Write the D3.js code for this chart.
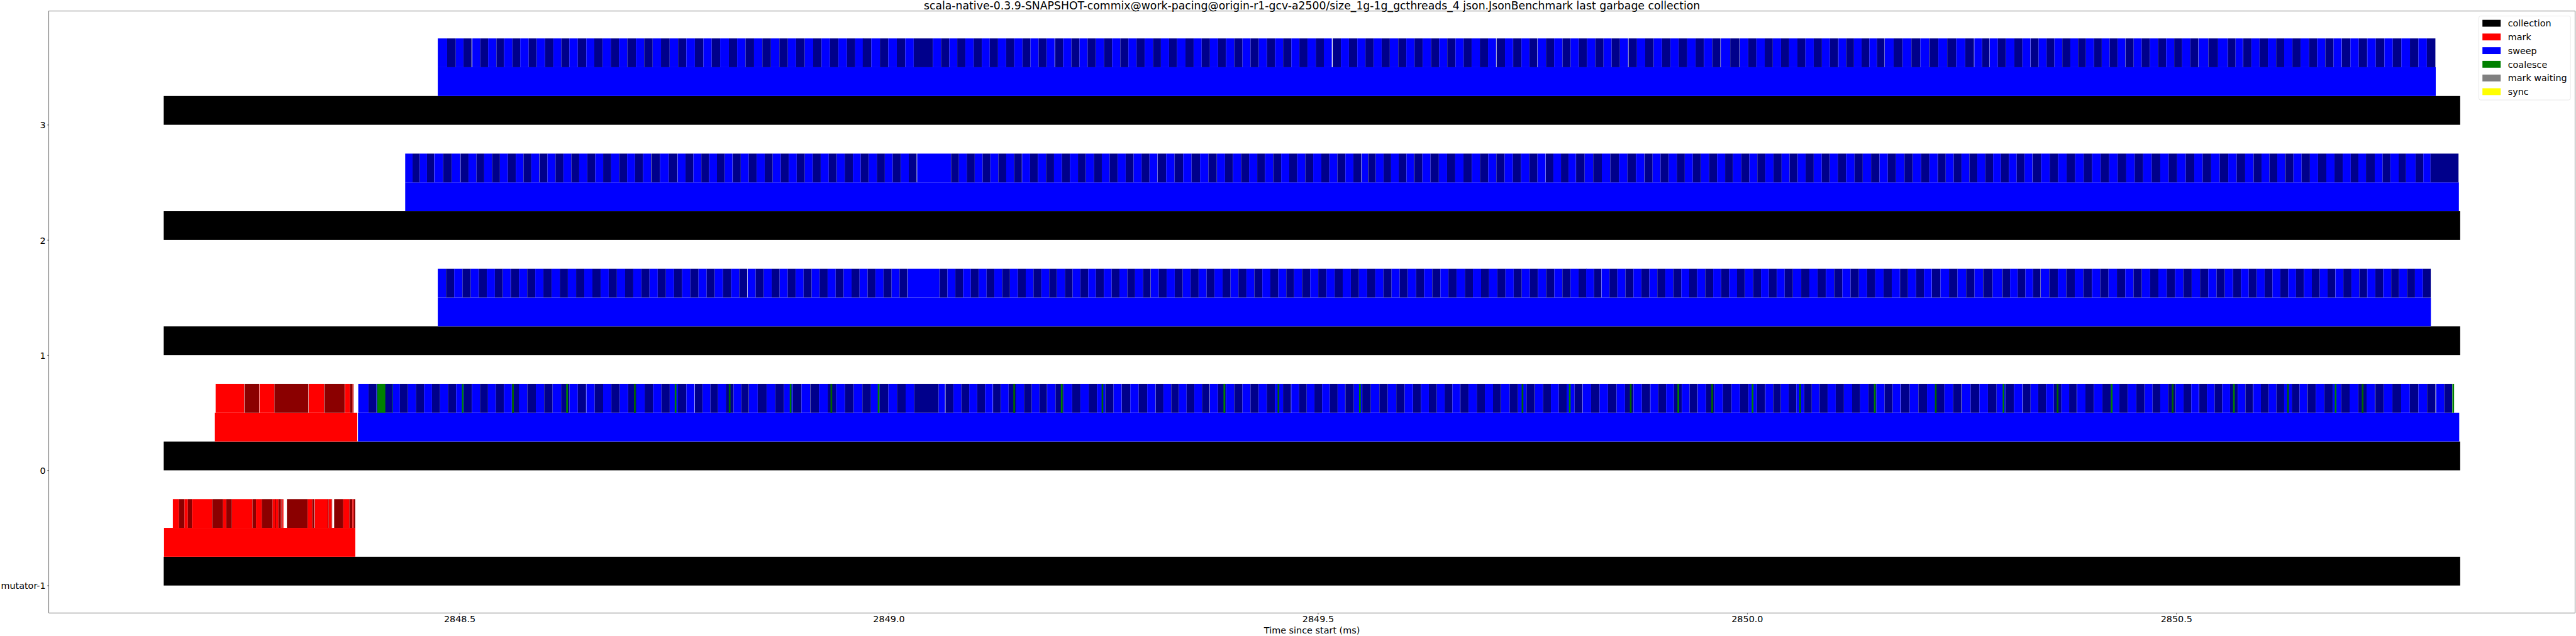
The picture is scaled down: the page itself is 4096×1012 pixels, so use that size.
<!DOCTYPE html>
<html><head><meta charset="utf-8">
<script src="https://cdn.jsdelivr.net/npm/d3@7"></script>
<style>html,body{margin:0;padding:0;background:#fff;overflow:hidden}</style>
</head><body>
<svg id="chart" width="4096" height="1012"></svg>
<script>
// ---------------- data ----------------
const chartTitle = "scala-native-0.3.9-SNAPSHOT-commix@work-pacing@origin-r1-gcv-a2500/size_1g-1g_gcthreads_4 json.JsonBenchmark last garbage collection";
const xLabel = "Time since start (ms)";
const rowLabels = ["mutator-1", "0", "1", "2", "3"];
const rowValues = [-1, 0, 1, 2, 3];
const xTicks = [2848.5, 2849.0, 2849.5, 2850.0, 2850.5];

// [row, start ms, end ms]
const collectionBars = [[-1, 2848.15528, 2850.83068], [0, 2848.15528, 2850.83068], [1, 2848.15528, 2850.83068], [2, 2848.15528, 2850.83068], [3, 2848.15528, 2850.83068]];
const markPhases = [[-1, 2848.15566, 2848.37851], [0, 2848.21487, 2848.38079]];
const sweepPhases = [[0, 2848.38155, 2850.82954], [1, 2848.47456, 2850.79651], [2, 2848.43660, 2850.82916], [3, 2848.47456, 2850.80220]];

// batches: [row, segment start ms, durations in microseconds (negative = idle gap)]
const markBatches = [
  [-1, 2848.16594, [7.18,6.38,3.87,4.86,23.61,12.60,3.68,6.57,24.03,4.06,6.76,12.60,3.30,0.76,2.73,2.51,0.95,0.80,-0.38,1.18,-4.06,24.22,5.39,2.35,-0.57,14.92,1.14,3.11,0.57,0.46,-2.28,10.63,7.18,3.49,1.56,1.75]],
  [0, 2848.21572, [33.33,-0.38,17.05,-0.38,17.43,39.52,-0.38,17.84,-0.38,23.61,-0.38,5.81,3.11,0.80,0.38]]
];

const sweepBatches = [
  // thread 3
  [3, 2848.47456, [10.9,10.1,8.9,9.5]],
  [3, 2848.51480, [9.3,9.1,9.7,8.9,9.7,9.1,9.9,9.3,9.7,9.7,9.3,9.3,9.9,9.9,9.3,9.7,9.5,9.5,9.8,10.0,9.6,9.9,9.7,10.1,9.8,9.6,10.0,9.9,9.7,9.8,10.2,9.6,9.8,9.9,9.7,10.0,9.8,9.9,9.6,10.1,9.8,9.7,9.9,9.8,10.0,9.6,9.5]],
  [3, 2848.96963, [9.9,10.1,9.7,10.0,9.8,9.9,22.4,9.4,9.6,9.3,9.5,9.7,9.4,9.3,9.6,9.5,9.4,9.6,9.3,9.5,9.4,9.2]],
  [3, 2849.19362, [9.5,9.6,9.4,9.5,9.7,9.3,9.5,9.6,9.4,9.5,9.5,9.6,9.3,9.5,9.4,9.7,9.5,9.4,9.6,9.5,9.3,9.6,9.5,9.4,9.6,9.5,9.5,9.3,9.6,9.4,9.5,9.6,9.4,9.3]],
  [3, 2849.51708, [9.6,9.4,9.7,9.5,9.6,9.3,9.5,9.8,9.4,9.6,9.5,9.7,9.4,9.5,9.6,9.5,9.3,9.6,9.5,9.4]],
  [3, 2849.70805, [9.8,9.4]],
  [3, 2849.72741, [9.6,9.3,9.2]],
  [3, 2849.75588, [9.7,9.5,9.8,9.4,9.6,9.7,9.5,9.6,9.4,9.7,9.5]],
  [3, 2849.86181, [9.8,9.6,9.9,9.7,9.8,9.6,10.0,9.7,9.8,9.6,9.5]],
  [3, 2849.96925, [11.0,10.9]],
  [3, 2849.99165, [9.6,9.5,9.7,9.4,9.6,9.5,9.6,9.3,9.7,9.5,9.4,9.6]],
  [3, 2850.10630, [9.0,9.1,8.9,9.0,8.8,8.9]],
  [3, 2850.16021, [10.4,10.5,10.2,10.4,10.3]],
  [3, 2850.21222, [10.5,10.3,10.6,10.4,10.2]],
  [3, 2850.26462, [9.0,8.6]],
  [3, 2850.28246, [9.6,9.5,9.7,9.4,9.4]],
  [3, 2850.33030, [9.2,9.3,9.1,9.2,9.4,9.0,9.2,9.3,9.1,9.2,9.3,9.0]],
  [3, 2850.44078, [9.5,9.3,9.6,9.4,9.5,9.4,9.3,9.5,9.3]],
  [3, 2850.52582, [11.5,11.3,11.2]],
  [3, 2850.56000, [9.0,8.6]],
  [3, 2850.57783, [9.6,9.5,9.7,9.6,9.4,9.6,9.5,9.7,9.6,9.5,9.6,9.5]],
  [3, 2850.69286, [9.9,9.8,9.7]],
  [3, 2850.72248, [9.9,10.0,9.8,9.9,10.1,9.8,9.9,9.9]],
  // thread 2
  [2, 2848.43660, [8.6,8.3,8.5,8.2]],
  [2, 2848.47039, [10.3,10.1,10.0]],
  [2, 2848.50114, [9.2,9.3,9.0,9.2,9.1,9.3,9.2,9.0,9.1,9.2]],
  [2, 2848.59301, [9.3,9.4,9.2,9.3,9.1,9.4,9.3,9.2,9.4,9.3,9.2,9.3,9.4,9.1]],
  [2, 2848.72323, [10.3,10.2,10.0]],
  [2, 2848.75399, [9.2,9.1,9.3,9.0,9.2,9.1,9.0]],
  [2, 2848.81815, [9.4,9.3,9.2,9.4,9.3,9.5,9.2,9.3,9.4,9.3,9.2,9.4,9.3,9.3,9.5,9.2,9.3,9.4,9.3,9.2,9.4,9.3,9.2]],
  [2, 2849.03303, [39.3]],
  [2, 2849.07251, [9.2,9.1,9.3,9.2,9.0,9.3,9.2,9.1,9.1]],
  [2, 2849.15528, [9.3,9.2,9.4,9.3,9.2,9.3,9.4,9.2,9.3,9.3,9.1,9.4,9.3,9.2,9.3,9.2,9.3]],
  [2, 2849.31321, [9.9,9.8,10.0,9.8,9.9,9.8,9.7]],
  [2, 2849.38231, [9.4,9.3,9.4,9.3,9.5,9.2,9.4,9.3,9.4,9.3,9.4,9.2,9.5,9.3,9.4,9.3,9.3,9.2]],
  [2, 2849.55087, [7.4]],
  [2, 2849.55847, [8.9,9.0,8.8,8.9,9.0,8.7]],
  [2, 2849.61200, [9.6,9.5,9.7,9.6,9.5,9.6,9.7,9.5,9.6,9.5,9.6,9.7,9.5,9.6,9.5,9.4]],
  [2, 2849.76538, [8.9,8.8,8.8,8.6]],
  [2, 2849.80068, [10.0,9.9,10.1,9.9,10.0,9.9,10.0,9.7]],
  [2, 2849.88041, [9.4,9.3,9.5,9.4,9.3,9.4,9.5,9.3,9.4,9.4,9.3,9.5,9.4,9.3,9.4,9.4,9.5,9.3,9.4,9.3,9.4,9.4,9.3,9.2]],
  [2, 2850.10554, [9.7,9.8,9.6,9.7,9.8,9.7,9.6,9.8,9.7,9.7,9.6,9.6]],
  [2, 2850.22210, [9.2,9.3,9.1,9.2,9.2,9.3,9.1,9.2,9.2,9.1,9.2,9.1]],
  [2, 2850.33257, [9.9,10.0,9.8,9.9,10.0,9.9,9.8,10.0,9.9,9.9,10.0,9.8,9.9,9.9,10.0,9.8,9.9,10.0,9.9,9.8,9.9,10.0,9.9,9.8,9.9,9.7]],
  [2, 2850.58998, [9.3,9.2,9.1,9.0]],
  [2, 2850.62681, [9.6,9.5,9.7,9.5,9.6,9.5,9.6,9.4,8.85,8.85,10.21,9.19,9.0,9.68,8.66,11.05,9.0,8.5]],
  [2, 2850.79613, [32.6]],
  // thread 1
  [1, 2848.47456, [9.6,9.5,9.7,9.6,9.3]],
  [1, 2848.52240, [9.3,9.4,9.2,9.1]],
  [1, 2848.55961, [9.5,9.6,9.4,9.5,9.6,9.5,9.4,9.6,9.5,9.5,9.6,9.4,9.5,9.6,9.5,9.4,9.5,9.6,9.5,9.5,9.4,9.6,9.5,9.5,9.4,9.6,9.5,9.5,9.3]],
  [1, 2848.83561, [9.3,9.4,9.2,9.3,9.4,9.3,9.2,9.4,9.3,9.3,9.4,9.2,9.3,9.3,9.4,9.2,9.3,9.4,9.3,9.1]],
  [1, 2849.02202, [37.0]],
  [1, 2849.05923, [9.1,9.2,9.0,9.1,9.2,9.1,9.0,9.2,9.0]],
  [1, 2849.14123, [9.2,9.1,9.0,9.2,9.1,9.1,9.2,9.0,9.0]],
  [1, 2849.22323, [9.1,9.0,9.2,9.1,9.1,9.2,9.0,9.1,9.0]],
  [1, 2849.30524, [9.3,9.2,9.4,9.3,9.2,9.3,9.3,9.2,9.4,9.3,9.2,9.3,9.2,9.3,9.4,9.2,9.3,9.2,9.1]],
  [1, 2849.48140, [9.5,9.4,9.6,9.5,9.4,9.5,9.4,9.6,9.5,9.4,9.5,9.5,9.4,9.6,9.4,9.5,9.5,9.4,9.5,9.6,9.4,9.5,9.4,9.5,9.5,9.6,9.4,9.5,9.4,9.5,9.5,9.4,9.5,9.4,9.3]],
  [1, 2849.81245, [9.0,8.6]],
  [1, 2849.83030, [9.3,9.2,9.4,9.3,9.2,9.3,9.3,9.4,9.2,9.3,9.3,9.2,9.4,9.3,9.2,9.3,9.3,9.2,9.4,9.3,9.2,9.3,9.1]],
  [1, 2850.04366, [9.6,9.7,9.5,9.6,9.7,9.6,9.5,9.6,9.7,9.6,9.5,9.6,9.6,9.4]],
  [1, 2850.17806, [9.3,9.4,9.2,9.1]],
  [1, 2850.21526, [9.9,10.0,9.9,10.0,9.8,9.8]],
  [1, 2850.27487, [11.1,11.0]],
  [1, 2850.29727, [9.0,8.9,9.0,8.8,8.8]],
  [1, 2850.34207, [9.9,10.0,9.8,9.9,10.0,9.8]],
  [1, 2850.40167, [9.7,9.6,9.8,9.7,9.6,9.7,9.7,9.6,9.8,9.7,9.6,9.7,9.7,9.6,9.7,9.6,9.5]],
  [1, 2850.56606, [9.2,9.1,9.3,9.2,9.1,9.2,9.2,9.1,9.2,9.2,9.1,9.2,9.0]],
  [1, 2850.68527, [9.3,9.4,9.2,9.1]],
  [1, 2850.72248, [9.3,9.2,9.3,9.2,9.3,9.2,9.3,9.1]],
  // thread 0
  [0, 2848.38193, [11.9,9.3,9.5,8.4,9.4,9.4,9.2,9.5,9.3,9.4,9.2,9.5,9.3,9.1,9.4,9.3,9.2,9.4,9.2,9.0]],
  [0, 2848.56910, [9.8,9.9,9.7,9.8,9.9,9.8,9.7,9.6]],
  [0, 2848.64768, [9.7,9.8,9.6,9.7,9.8,9.7,9.6,9.8,9.7,9.7,9.6,9.8,9.5]],
  [0, 2848.77411, [9.0,9.1,8.9,9.0,9.1,8.9,8.8]],
  [0, 2848.83713, [10.2,10.3,10.1,10.2,10.2,10.1,10.0]],
  [0, 2848.90850, [10.1,10.2,10.0,10.1,10.2,10.1,10.0,10.2,10.1,10.0,10.1,10.0,28.5,7.4]],
  [0, 2849.06606, [9.3,9.2,9.1,9.3,9.2,9.0]],
  [0, 2849.12149, [9.0,9.1,8.9,9.0,9.1,8.9,8.8]],
  [0, 2849.18451, [9.7,9.6,9.8,9.6,9.7,9.6,9.7,9.6,9.5]],
  [0, 2849.27145, [9.9,9.8,9.9,9.7]],
  [0, 2849.31093, [9.0,9.1,8.9,9.0,9.0,8.9,8.8]],
  [0, 2849.37396, [9.5,9.4,9.6,9.5,9.4,9.5,9.5,9.4,9.5,9.3]],
  [0, 2849.46887, [8.9,9.1,9.0,8.9,9.0,9.1,8.8]],
  [0, 2849.53189, [9.9,9.8,10.0,9.9,9.8,9.9,9.8,9.7]],
  [0, 2849.61086, [9.2,9.1,9.3,9.1,9.0,9.1]],
  [0, 2849.66591, [9.5,9.6,9.4,9.5,9.3]],
  [0, 2849.71336, [9.9,9.8,9.9,9.7]],
  [0, 2849.75285, [9.2,9.3,9.2,9.1,9.3,9.0]],
  [0, 2849.80828, [9.9,9.8,9.9,10.0,9.8,9.9,9.8,9.6]],
  [0, 2849.88724, [9.1,9.2,9.1,9.3,9.0,9.1]],
  [0, 2849.94229, [9.8,9.9,9.8,10.0,9.9,9.8,9.9,9.6]],
  [0, 2850.02126, [9.0,9.0,9.1,8.9,9.0,9.0,8.8]],
  [0, 2850.08428, [9.5,9.4,9.5,9.6,9.4,9.5,9.4,9.5,9.4,9.3]],
  [0, 2850.17920, [10.1,10.2,10.0,10.1,10.2,10.0,9.9]],
  [0, 2850.25019, [10.2,10.1,10.0,10.1,10.2,10.0,9.9]],
  [0, 2850.32118, [9.0,8.9,9.1,9.0,8.9,9.0,8.8]],
  [0, 2850.38421, [9.9,9.8,9.9,9.8,10.0,9.8,9.9,9.6]],
  [0, 2850.46317, [9.1,9.0,9.1,8.9,9.1,9.0,8.9]],
  [0, 2850.52658, [9.0,9.0,8.9,9.1,9.0,8.9,8.8]],
  [0, 2850.58960, [8.9,9.1,9.0,9.0,8.9,9.0,8.8]],
  [0, 2850.65262, [9.8,9.9,9.8,9.9,9.8,10.0,9.8,9.6]],
  [0, 2850.73159, [10.1,10.0,10.2,10.1,10.0,10.1,9.8]],
  [0, 2850.80258, [9.6,9.2]]
];

// coalesce batches: [row, start ms, duration µs]
const coalesceBatches = [
  [0, 2848.40394, 9.5], [0, 2848.42179, 0.6], [0, 2848.50266, 2.0], [0, 2848.56112, 2.0], [0, 2848.62415, 2.0],
  [0, 2848.70311, 2.0], [0, 2848.75057, 2.0], [0, 2848.81359, 2.0], [0, 2848.88459, 2.0], [0, 2848.93204, 2.0],
  [0, 2848.98709, 2.0], [0, 2849.14503, 2.0], [0, 2849.20046, 2.0], [0, 2849.24791, 2.0], [0, 2849.38990, 2.0],
  [0, 2849.45292, 2.0], [0, 2849.54784, 2.0], [0, 2849.73728, 2.0], [0, 2849.79233, 2.0], [0, 2849.86333, 2.0],
  [0, 2849.91876, 2.0], [0, 2849.95824, 2.0], [0, 2850.00532, 2.0], [0, 2850.06074, 2.0], [0, 2850.14768, 2.0],
  [0, 2850.21868, 2.0], [0, 2850.29765, 2.0], [0, 2850.36067, 2.0], [0, 2850.42369, 2.0], [0, 2850.49468, 2.0],
  [0, 2850.56606, 2.0], [0, 2850.62908, 2.0], [0, 2850.68451, 2.0], [0, 2850.71602, 2.0], [0, 2850.82156, 2.0]
];

const legendNames = ["collection", "mark", "sweep", "coalesce", "mark waiting", "sync"];
const legendColors = ["#000000", "#ff0000", "#0000ff", "#008000", "#808080", "#ffff00"];
const batchColors = {mark: ["#ff0000", "#8b0000"], sweep: ["#0000ff", "#00008b"], coalesce: ["#008000", "#006400"]};

// ---------------- drawing ----------------
const W0 = 7902, H0 = 1953;            // reference layout units
const M = {left: 150, right: 7899, top: 34, bottom: 1882};
const FS = 27.78, FS_TITLE = 33.33;

function expand(segments, kind) {
  const out = [], counter = {};
  segments.forEach(([row, t0, durs]) => {
    let t = t0;
    if (counter[row] === undefined) counter[row] = 0;
    durs.forEach(d => {
      if (d < 0) { t += -d / 1000; return; }
      out.push({row, x0: t, x1: t + d / 1000, kind, i: counter[row]++});
      t += d / 1000;
    });
  });
  return out;
}
const markRects = expand(markBatches, "mark");
const sweepRects = expand(sweepBatches, "sweep");
const coalRects = coalesceBatches.map(([row, t, d], i) => ({row, x0: t, x1: t + d / 1000, kind: "coalesce", i}));

const allX = [].concat(
  collectionBars.flatMap(d => [d[1], d[2]]),
  markPhases.flatMap(d => [d[1], d[2]]),
  sweepPhases.flatMap(d => [d[1], d[2]]));
const [xmin, xmax] = d3.extent(allX);
const xpad = (xmax - xmin) * 0.05;
const ymin = d3.min(rowValues), ymax = d3.max(rowValues) + 0.75;
const ypad = (ymax - ymin) * 0.05;

const x = d3.scaleLinear().domain([xmin - xpad, xmax + xpad]).range([M.left, M.right]);
const y = d3.scaleLinear().domain([ymin - ypad, ymax + ypad]).range([M.bottom, M.top]);

const svg = d3.select("#chart");
const root = svg.append("g").attr("transform", `scale(${4096 / W0},${1012 / H0})`)
  .style("font-family", "'DejaVu Sans', sans-serif");

root.append("rect").attr("x", 0).attr("y", 0).attr("width", W0).attr("height", H0).attr("fill", "#fff");

root.append("defs").append("clipPath").attr("id", "clip")
  .append("rect").attr("x", M.left).attr("y", M.top).attr("width", M.right - M.left).attr("height", M.bottom - M.top);
const plot = root.append("g").attr("clip-path", "url(#clip)");

function bar(sel, data, lo, hi, colorFn) {
  sel.selectAll(null).data(data).join("rect")
    .attr("x", d => x(d.x0))
    .attr("width", d => Math.max(0, x(d.x1) - x(d.x0)))
    .attr("y", d => y(d.row + hi))
    .attr("height", d => y(d.row + lo) - y(d.row + hi))
    .attr("fill", colorFn);
}
const asObj = arr => arr.map(([row, a, b]) => ({row, x0: a, x1: b}));
bar(plot.append("g"), asObj(collectionBars), 0, 0.25, () => "#000000");
bar(plot.append("g"), asObj(markPhases), 0.25, 0.5, () => "#ff0000");
bar(plot.append("g"), asObj(sweepPhases), 0.25, 0.5, () => "#0000ff");
const bcol = d => batchColors[d.kind][d.i % 2];
bar(plot.append("g"), markRects, 0.5, 0.75, bcol);
bar(plot.append("g"), sweepRects, 0.5, 0.75, bcol);
bar(plot.append("g"), coalRects, 0.5, 0.75, bcol);

// axes
const xAxis = d3.axisBottom(x).tickValues(xTicks).tickFormat(d3.format(".1f"))
  .tickSize(4.86).tickPadding(4.86).tickSizeOuter(0);
const gx = root.append("g").attr("transform", `translate(0,${M.bottom})`).call(xAxis);
const yAxis = d3.axisLeft(y).tickValues(rowValues).tickFormat(d => rowLabels[rowValues.indexOf(d)])
  .tickSize(4.86).tickPadding(4.86).tickSizeOuter(0);
const gy = root.append("g").attr("transform", `translate(${M.left},0)`).call(yAxis);
[gx, gy].forEach(g => {
  g.attr("font-family", null).attr("font-size", null);
  g.select(".domain").remove();
  g.selectAll(".tick line").attr("stroke", "#000").attr("stroke-width", 1.11);
  g.selectAll(".tick text").attr("fill", "#000").style("font-size", FS + "px");
});
gy.selectAll(".tick text").attr("dy", "0.38em");

root.append("rect").attr("x", M.left).attr("y", M.top)
  .attr("width", M.right - M.left).attr("height", M.bottom - M.top)
  .attr("fill", "none").attr("stroke", "#000").attr("stroke-width", 1.11);

root.append("text").attr("x", (M.left + M.right) / 2).attr("y", 28.5)
  .attr("text-anchor", "middle").style("font-size", FS_TITLE + "px").text(chartTitle);
root.append("text").attr("x", (M.left + M.right) / 2).attr("y", 1946)
  .attr("text-anchor", "middle").style("font-size", FS + "px").text(xLabel);

// legend
const lg = root.append("g");
lg.append("rect").attr("x", 7604).attr("y", 49).attr("width", 281).attr("height", 258)
  .attr("rx", 5.5).attr("fill", "#fff").attr("fill-opacity", 0.8)
  .attr("stroke", "#d6d6d6").attr("stroke-width", 1.11);
const items = lg.selectAll(null).data(legendNames).join("g")
  .attr("transform", (d, i) => `translate(0,${71.5 + i * 42})`);
items.append("rect").attr("x", 7615).attr("y", -10.5).attr("width", 56).attr("height", 21)
  .attr("fill", (d, i) => legendColors[i]);
items.append("text").attr("x", 7693).attr("y", 10).style("font-size", FS + "px").text(d => d);
</script>
</body></html>
